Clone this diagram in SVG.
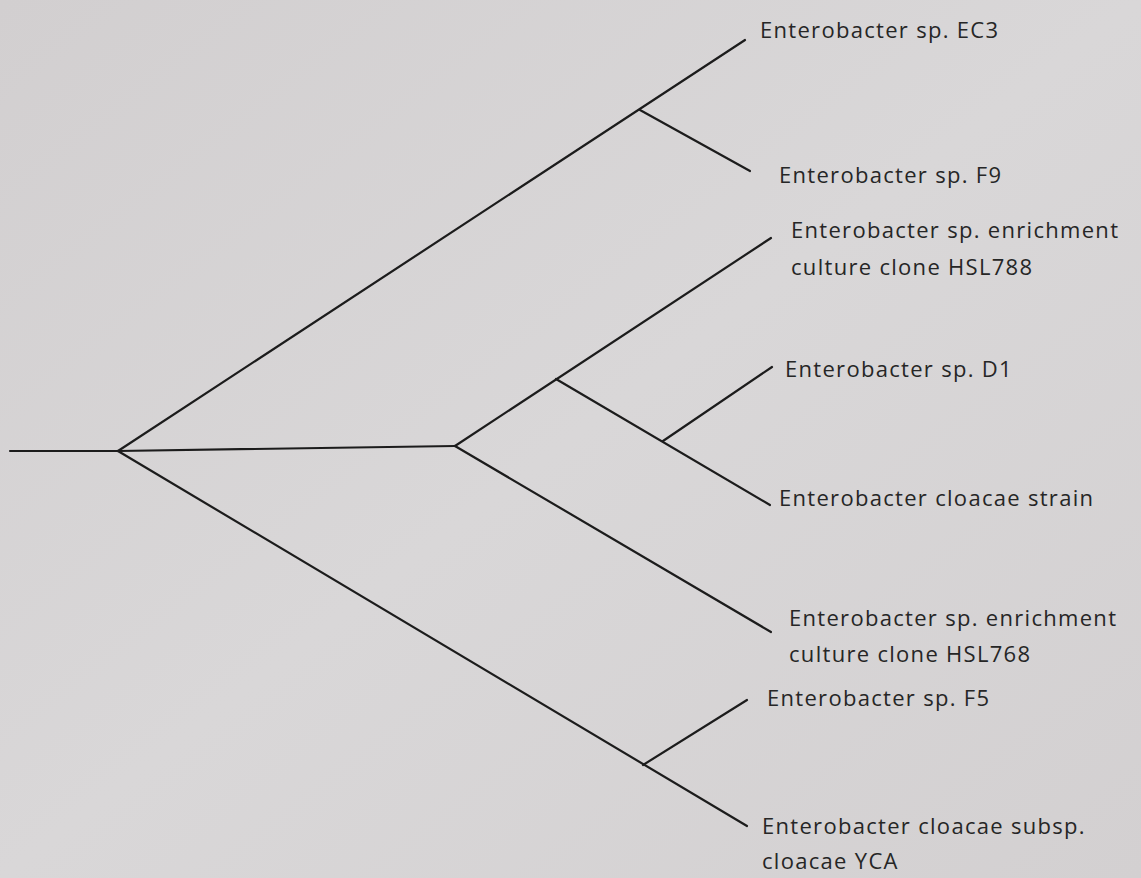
<svg xmlns="http://www.w3.org/2000/svg" width="1141" height="878" viewBox="0 0 1141 878">
<defs>
<linearGradient id="paper" x1="0" y1="0" x2="1" y2="1">
<stop offset="0" stop-color="#d2cfd0"/>
<stop offset="0.5" stop-color="#d9d7d8"/>
<stop offset="1" stop-color="#d3d0d1"/>
</linearGradient>
<style>
.br{stroke:#1c1c1c;stroke-width:2.2;fill:none;stroke-linecap:round}
.lb{font-family:"Open Sans","Liberation Sans",sans-serif;font-size:22px;letter-spacing:1.3px;fill:#262626}
</style>
</defs>
<rect x="0" y="0" width="1141" height="878" fill="url(#paper)"/>
<g id="connectors">
<line class="br" x1="10" y1="451" x2="118" y2="451"/>
<line class="br" x1="118" y1="451" x2="745" y2="40"/>
<line class="br" x1="640" y1="110" x2="750" y2="171"/>
<line class="br" x1="118" y1="451" x2="455" y2="446"/>
<line class="br" x1="455" y1="446" x2="771" y2="238"/>
<line class="br" x1="556" y1="379" x2="770" y2="505"/>
<line class="br" x1="663" y1="441" x2="772" y2="367"/>
<line class="br" x1="455" y1="446" x2="771" y2="632"/>
<line class="br" x1="118" y1="451" x2="747" y2="826"/>
<line class="br" x1="643" y1="765" x2="747" y2="700"/>
</g>
<g id="n-ec3"><text class="lb" x="760" y="38">Enterobacter sp. EC3</text></g>
<g id="n-f9"><text class="lb" x="779" y="183">Enterobacter sp. F9</text></g>
<g id="n-hsl788"><text class="lb" x="791" y="238">Enterobacter sp. enrichment</text><text class="lb" x="791" y="275">culture clone HSL788</text></g>
<g id="n-d1"><text class="lb" x="785" y="377">Enterobacter sp. D1</text></g>
<g id="n-strain"><text class="lb" x="779" y="506">Enterobacter cloacae strain</text></g>
<g id="n-hsl768"><text class="lb" x="789" y="626">Enterobacter sp. enrichment</text><text class="lb" x="789" y="662">culture clone HSL768</text></g>
<g id="n-f5"><text class="lb" x="767" y="706">Enterobacter sp. F5</text></g>
<g id="n-yca"><text class="lb" x="762" y="834">Enterobacter cloacae subsp.</text><text class="lb" x="762" y="869">cloacae YCA</text></g>
</svg>
